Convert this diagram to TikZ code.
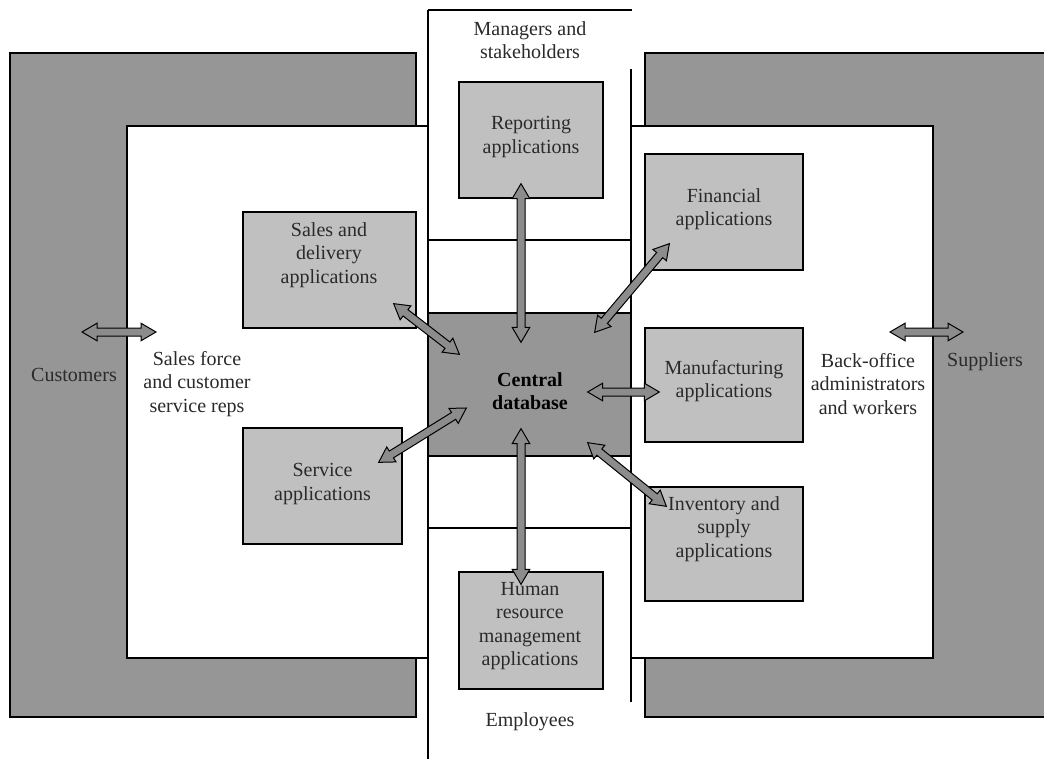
\documentclass[tikz,border=0pt]{standalone}
\usepackage{fontspec}
\setmainfont{Liberation Serif}
\usetikzlibrary{calc}
\definecolor{darkfill}{HTML}{969696}
\definecolor{lightfill}{HTML}{C0C0C0}
\definecolor{arrowfill}{HTML}{8C8C8C}
\definecolor{txt}{HTML}{2A2A2A}
\newcommand{\fatarrow}[2]{%
  \coordinate (fatA) at (#1);
  \coordinate (fatB) at (#2);
  \coordinate (fatP) at ($(fatA)!15pt!(fatB)$);
  \coordinate (fatQ) at ($(fatB)!15pt!(fatA)$);
  \filldraw[fat] (fatA) -- ($(fatP)!8.8pt!90:(fatB)$) -- ($(fatP)!4pt!90:(fatB)$)
    -- ($(fatQ)!4pt!-90:(fatA)$) -- ($(fatQ)!8.8pt!-90:(fatA)$) -- (fatB)
    -- ($(fatQ)!8.8pt!90:(fatA)$) -- ($(fatQ)!4pt!90:(fatA)$)
    -- ($(fatP)!4pt!-90:(fatB)$) -- ($(fatP)!8.8pt!-90:(fatB)$) -- cycle;}
\begin{document}
\begin{tikzpicture}[x=1pt,y=-1pt,
  region/.style={draw=black, line width=1.3pt},
  appbox/.style={rectangle, draw=black, line width=1.3pt, fill=lightfill, inner sep=0pt},
  dbbox/.style={rectangle, draw=black, line width=1.3pt, fill=darkfill, inner sep=0pt},
  lbl/.style={font=\fontsize{20}{23.5}\selectfont, align=center, text=txt, inner sep=0pt},
  fat/.style={fill=arrowfill, draw=black, line width=1pt, line join=miter}]
\fill[white] (0,0) rectangle (1044,759);
\useasboundingbox (0,0) rectangle (1044,759);
% side regions
\filldraw[region, fill=darkfill] (10,53) rectangle (416,717);
\filldraw[region, fill=white] (127,126) rectangle (428,658);
\filldraw[region, fill=darkfill] (645,53) rectangle (1056,717);
\filldraw[region, fill=white] (631,126) rectangle (933,658);
% middle column
\draw[region] (428,10) -- (632,10);
\draw[region] (428,10) -- (428,762);
\draw[region] (631,69) -- (631,702);
\draw[region] (428,240) -- (631,240);
\draw[region] (428,528) -- (631,528);
% central database
\node[dbbox, minimum width=203, minimum height=143] (db) at (529.5,384.5) {};
% application boxes
\node[appbox, minimum width=144, minimum height=116] (rep) at (531,140) {};
\node[appbox, minimum width=173, minimum height=116] (sales) at (329.5,270) {};
\node[appbox, minimum width=158, minimum height=116] (fin) at (724,212) {};
\node[appbox, minimum width=158, minimum height=114] (man) at (724,385) {};
\node[appbox, minimum width=159, minimum height=116] (serv) at (322.5,486) {};
\node[appbox, minimum width=158, minimum height=114] (inv) at (724,544) {};
\node[appbox, minimum width=144, minimum height=117] (hr) at (531,630.5) {};
% texts
\node[lbl] (mgr) at (530,40) {Managers and\\stakeholders};
\node[lbl] (reptxt) at (531,137) {Reporting\\applications};
\node[lbl] (salestxt) at (329,255) {Sales and\\delivery\\applications};
\node[lbl] (fintxt) at (724,209) {Financial\\applications};
\node[lbl] (mantxt) at (724,381) {Manufacturing\\applications};
\node[lbl] (servtxt) at (322.5,484) {Service\\applications};
\node[lbl] (invtxt) at (724,529) {Inventory and\\supply\\applications};
\node[lbl] (hrtxt) at (530,626) {Human\\resource\\management\\applications};
\node[lbl] (emp) at (530,722) {Employees};
\node[lbl, text=black, font=\fontsize{20}{23.5}\selectfont\bfseries] (dbtxt) at (530,391) {Central\\database};
\node[lbl] (cust) at (74,375) {Customers};
\node[lbl] (sf) at (197,384) {Sales force\\and customer\\service reps};
\node[lbl] (bo) at (868,384) {Back-office\\administrators\\and workers};
\node[lbl] (sup) at (985,362) {Suppliers};
% arrows
\fatarrow{[shift={(8,-43)}]cust.center}{[shift={(-41,-52)}]sf.center}
\fatarrow{[shift={(22,-52)}]bo.center}{[shift={(-22,-30)}]sup.center}
\fatarrow{[shift={(-23,-25)}]sales.south east}{[shift={(32,42)}]db.north west}
\fatarrow{[shift={(-10,-15)}]rep.south}{[shift={(-8.5,30)}]db.north}
\fatarrow{[shift={(25,-27)}]fin.south west}{[shift={(-37,20)}]db.north east}
\fatarrow{[shift={(-44,7.5)}]db.east}{[shift={(15,7)}]man.west}
\fatarrow{[shift={(-24,35)}]serv.north east}{[shift={(39,23.5)}]db.west}
\fatarrow{[shift={(-44,-14)}]db.south east}{[shift={(22,20)}]inv.north west}
\fatarrow{[shift={(-8.5,-28)}]db.south}{[shift={(-10,13)}]hr.north}
\end{tikzpicture}
\end{document}
